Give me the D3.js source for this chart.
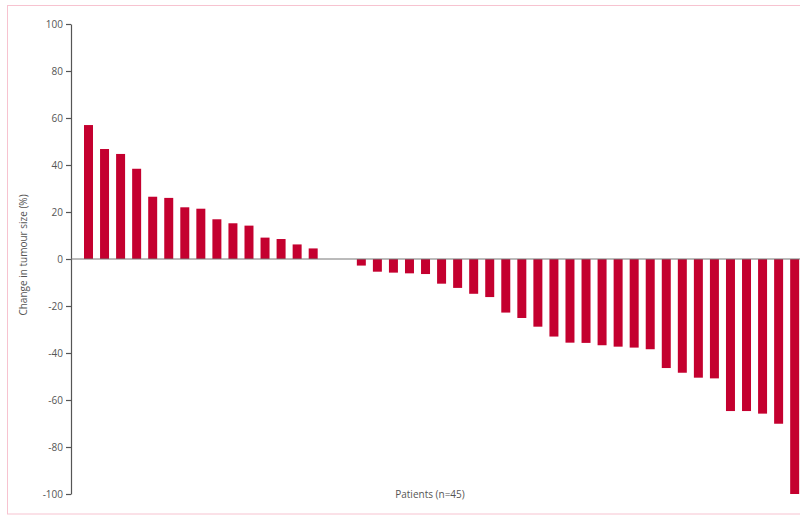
<!DOCTYPE html>
<html>
<head>
<meta charset="utf-8">
<script src="https://cdn.jsdelivr.net/npm/d3@7"></script>
<style>
  body { margin: 0; background: #fff; }
  .axis text { font-family: "Open Sans", sans-serif; font-size: 10px; fill: #555; }
  .axis path, .axis line { stroke: #555; stroke-width: 1.2; }
  .label { font-family: "Open Sans", sans-serif; font-size: 10px; fill: #555; }
  .bar { fill: #c4002f; }
</style>
</head>
<body>
<div id="waterfall"></div>
<script>

// patients sorted by best change in tumour size (%)
var patients = d3.range(1, 46);
var change = [57.0, 46.8, 44.7, 38.4, 26.5, 26.0, 22.0, 21.4, 16.9, 15.2,
              14.2, 9.1, 8.5, 6.2, 4.5, 0, 0, -2.8, -5.4, -5.8,
              -6.1, -6.4, -10.5, -12.3, -14.8, -16.2, -22.8, -25.1, -28.8, -33.0,
              -35.6, -35.7, -36.7, -37.3, -37.7, -38.4, -46.4, -48.4, -50.5, -50.8,
              -64.7, -64.7, -65.8, -70.1, -100.0];
var yTicks = [100, 80, 60, 40, 20, 0, -20, -40, -60, -80, -100];

var yTitle = "Change in tumour size (%)";
var xTitle = "Patients (n=45)";


WaterfallChart = function(_parentElement, _ids, _values){
	this.parentElement = _parentElement;
	this.ids = _ids;
	this.values = _values;
	this.initVis();
}

WaterfallChart.prototype.initVis = function(){
	var vis = this;

	vis.margin = {top: 24, left: 71};
	vis.width = 741;
	vis.height = 470;

	vis.root = d3.select("#" + vis.parentElement).append("svg")
		.attr("width", 800)
		.attr("height", 517);

	// thin pink frame round the figure
	vis.root.append("rect")
		.attr("x", 7.5)
		.attr("y", 5.5)
		.attr("width", 800)
		.attr("height", 508.5)
		.attr("fill", "none")
		.attr("stroke", "#f7c3d0")
		.attr("stroke-width", 1);

	vis.svg = vis.root.append("g")
		.attr("transform", "translate(" + vis.margin.left + "," + vis.margin.top + ")");

	vis.x = d3.scaleBand()
		.range([13, vis.width])
		.paddingInner(0.44)
		.paddingOuter(0.4)
		.align(0);

	vis.y = d3.scaleLinear()
		.domain([-100, 100])
		.range([vis.height, 0]);

	vis.yAxis = d3.axisLeft(vis.y)
		.tickValues(yTicks)
		.tickFormat(function(d){ return String(d); })
		.tickSize(5)
		.tickSizeOuter(0)
		.tickPadding(3);

	vis.svg.append("g")
		.attr("class", "y-axis axis");

	// axis titles
	vis.root.append("text")
		.attr("class", "label")
		.attr("text-anchor", "middle")
		.attr("transform", "translate(27," + (vis.margin.top + vis.y(0) - 4) + ") rotate(-90)")
		.text(yTitle);

	vis.root.append("text")
		.attr("class", "label")
		.attr("text-anchor", "middle")
		.attr("x", 430)
		.attr("y", 498)
		.text(xTitle);

	vis.updateVis();
}

WaterfallChart.prototype.updateVis = function(){
	var vis = this;

	var data = vis.ids.map(function(d, i){ return {id: d, value: vis.values[i]}; });

	vis.x.domain(vis.ids);

	vis.svg.selectAll(".bar")
		.data(data.filter(function(d){ return d.value !== 0; }))
		.enter().append("rect")
		.attr("class", "bar")
		.attr("x", function(d){ return vis.x(d.id); })
		.attr("width", vis.x.bandwidth())
		.attr("y", function(d){ return vis.y(Math.max(0, d.value)); })
		.attr("height", function(d){ return Math.abs(vis.y(d.value) - vis.y(0)); });

	// zero line
	vis.svg.append("line")
		.attr("x1", 0)
		.attr("x2", vis.width)
		.attr("y1", vis.y(0))
		.attr("y2", vis.y(0))
		.attr("stroke", "#777")
		.attr("stroke-width", 1);

	vis.svg.select(".y-axis").call(vis.yAxis);
}

var chart = new WaterfallChart("waterfall", patients, change);

</script>
</body>
</html>
